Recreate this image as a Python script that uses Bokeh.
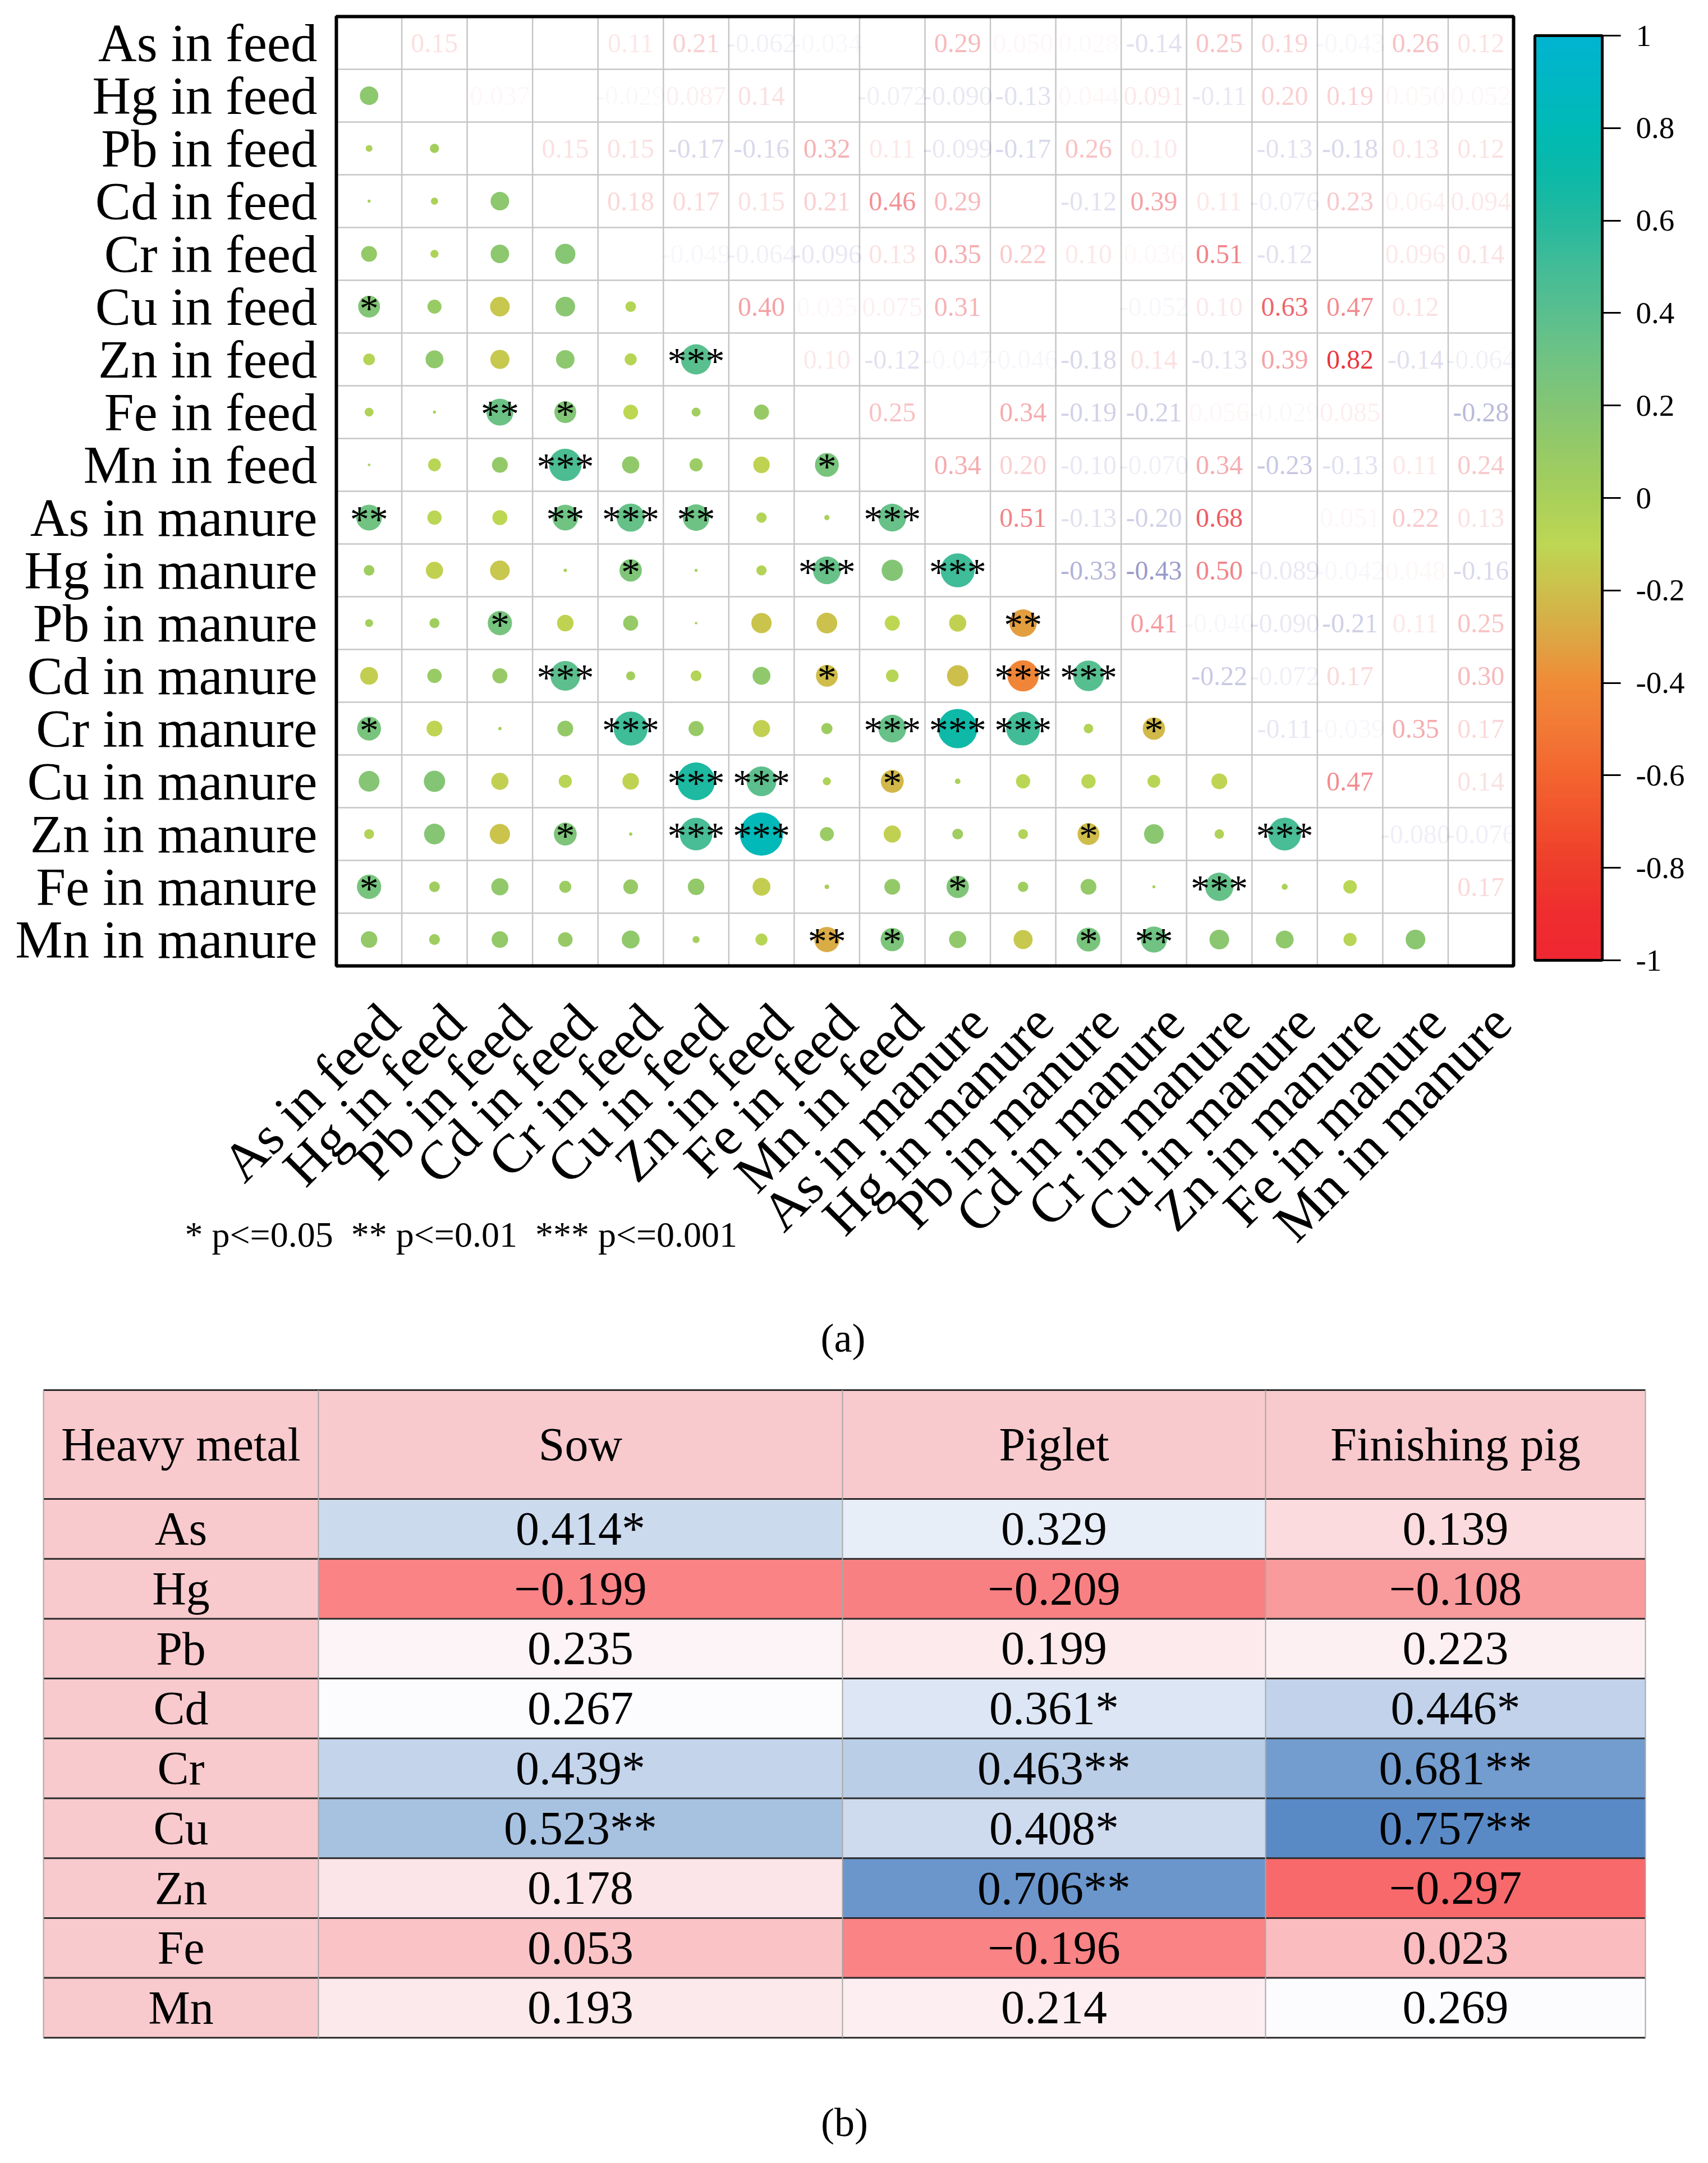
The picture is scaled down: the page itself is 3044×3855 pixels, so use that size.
import numpy as np
from bokeh.plotting import figure
from bokeh.models import (Range1d, FixedTicker, LinearColorMapper, ColorBar, Label,
                          ColumnDataSource, CustomJSTickFormatter, Grid)
from bokeh.layouts import column
from bokeh.embed import file_html
from bokeh.resources import INLINE
from bokeh.core.properties import value

# ---------------- data: panel (a) ----------------
variables = ["As in feed", "Hg in feed", "Pb in feed", "Cd in feed", "Cr in feed",
             "Cu in feed", "Zn in feed", "Fe in feed", "Mn in feed",
             "As in manure", "Hg in manure", "Pb in manure", "Cd in manure",
             "Cr in manure", "Cu in manure", "Zn in manure", "Fe in manure", "Mn in manure"]

# correlation coefficients, row i lists r(i, j) for j > i
upper_r = [
    [0.15, -0.020, 0.004, 0.11, 0.21, -0.062, -0.034, 0.003, 0.29, 0.050, 0.028, -0.14, 0.25, 0.19, -0.043, 0.26, 0.12],
    [0.037, -0.023, -0.029, 0.087, 0.14, 0.004, -0.072, -0.090, -0.13, 0.044, 0.091, -0.11, 0.20, 0.19, 0.050, 0.052],
    [0.15, 0.15, -0.17, -0.16, 0.32, 0.11, -0.099, -0.17, 0.26, 0.10, -0.005, -0.13, -0.18, 0.13, 0.12],
    [0.18, 0.17, 0.15, 0.21, 0.46, 0.29, 0.005, -0.12, 0.39, 0.11, -0.076, 0.23, 0.064, 0.094],
    [-0.049, -0.064, -0.096, 0.13, 0.35, 0.22, 0.10, 0.036, 0.51, -0.12, -0.005, 0.096, 0.14],
    [0.40, 0.035, 0.075, 0.31, 0.004, -0.003, -0.052, 0.10, 0.63, 0.47, 0.12, 0.022],
    [0.10, -0.12, -0.047, -0.046, -0.18, 0.14, -0.13, 0.39, 0.82, -0.14, -0.064],
    [0.25, -0.012, 0.34, -0.19, -0.21, 0.056, -0.029, 0.085, 0.0091, -0.28],
    [0.34, 0.20, -0.10, -0.070, 0.34, -0.23, -0.13, 0.11, 0.24],
    [0.51, -0.13, -0.20, 0.68, -0.014, 0.051, 0.22, 0.13],
    [-0.33, -0.43, 0.50, -0.089, -0.042, 0.048, -0.16],
    [0.41, -0.040, -0.090, -0.21, 0.11, 0.25],
    [-0.22, -0.072, 0.17, 0.004, 0.30],
    [-0.11, -0.039, 0.35, 0.17],
    [0.47, -0.016, 0.14],
    [-0.080, -0.076],
    [0.17],
]

# significance level in the lower triangle (0: none, 1: *, 2: **, 3: ***), row i, cols 0..i-1
lower_sig = [
    "", "0", "00", "000", "0000", "10000", "000003", "0021000", "00030001",
    "200232003", "0000100303", "00100000002", "000300010033", "1000300033301",
    "00000330100000", "000103300001003", "1000000001000300", "00000002100120000",
]
sig_marks = ["", "*", "**", "***"]
cbar_ticks = [-1.0, -0.8, -0.6, -0.4, -0.2, 0.0, 0.2, 0.4, 0.6, 0.8, 1.0]
legend_text = "* p<=0.05\u00a0 ** p<=0.01\u00a0 *** p<=0.001"

# ---------------- data: panel (b) ----------------
table_header = ["Heavy metal", "Sow", "Piglet", "Finishing pig"]
metals = ["As", "Hg", "Pb", "Cd", "Cr", "Cu", "Zn", "Fe", "Mn"]
sow = [0.414, -0.199, 0.235, 0.267, 0.439, 0.523, 0.178, 0.053, 0.193]
sow_sig = ["*", "", "", "", "*", "**", "", "", ""]
piglet = [0.329, -0.209, 0.199, 0.361, 0.463, 0.408, 0.706, -0.196, 0.214]
piglet_sig = ["", "", "", "*", "**", "*", "**", "", ""]
finishing = [0.139, -0.108, 0.223, 0.446, 0.681, 0.757, -0.297, 0.023, 0.269]
finishing_sig = ["", "", "", "*", "**", "**", "", "", ""]

# ---------------- styles / layout ----------------
SERIF = "Liberation Serif"
W = 3028
HA = 2432
HC = 3839 - HA
GX, GY, GW, GH = 599, 29, 2098, 1692     # heat-map grid box inside canvas (a)
XOFF = 0.317          # shift of rotated column labels, in cells
XLAB_DY = 85          # px below grid for rotated labels
CIRCLE_PX = 85        # circle diameter for |r| = 1 (area proportional to |r|)
cmap_stops = [(-1.0, "#EF2731"), (-0.9, "#EF2D2F"), (-0.8, "#EE3D2B"), (-0.7, "#F1512C"),
              (-0.6, "#F3652F"), (-0.5, "#F27935"), (-0.4, "#F08B38"), (-0.3, "#DCA744"),
              (-0.2, "#CDBF4B"), (-0.1, "#BDD753"), (0.0, "#A9D05A"), (0.1, "#97CA66"),
              (0.2, "#84C575"), (0.3, "#70C383"), (0.4, "#5ABF8E"), (0.5, "#43BC97"),
              (0.6, "#25B99E"), (0.7, "#0CB9A8"), (0.8, "#00BAB5"), (0.9, "#00B7C3"),
              (1.0, "#00B4D0")]
POS_TXT = (228, 8, 18)
NEG_TXT = (8, 8, 128)


def hex2rgb(h):
    return [int(h[k:k + 2], 16) for k in (1, 3, 5)]


sv = [s[0] for s in cmap_stops]
sc = np.array([hex2rgb(s[1]) for s in cmap_stops])
grid_v = np.linspace(-1, 1, 256)
palette = ["#%02x%02x%02x" % tuple(int(round(np.interp(g, sv, sc[:, c]))) for c in range(3))
           for g in grid_v]
mapper = LinearColorMapper(palette=palette, low=-1, high=1)

N = len(variables)
R = np.eye(N)
for i, row in enumerate(upper_r):
    for k, v in enumerate(row):
        j = i + 1 + k
        R[i, j] = v
        R[j, i] = v


def fmt2(v):
    a = abs(v)
    e = int(np.floor(np.log10(a)))
    dec = max(0, 1 - e)
    return ("-" if v < 0 else "") + f"{a:.{dec}f}"


def drop_grids(fig):
    fig.center = [r for r in fig.center if not isinstance(r, Grid)]


# lower triangle: circles + stars
lx, ly, lr, lsize, lstar = [], [], [], [], []
for i in range(N):
    for j in range(i):
        lx.append(j + 0.5)
        ly.append(i + 0.5)
        lr.append(R[i, j])
        lsize.append(np.sqrt(abs(R[i, j])) * CIRCLE_PX)
        lstar.append(sig_marks[int(lower_sig[i][j])])
low_src = ColumnDataSource(dict(x=lx, y=ly, r=lr, size=lsize, star=lstar))

# upper triangle: coloured numbers
ux, uy, ut, ucol, ualpha = [], [], [], [], []
for i in range(N):
    for j in range(i + 1, N):
        v = R[i, j]
        ux.append(j + 0.5)
        uy.append(i + 0.5)
        ut.append(fmt2(v))
        ucol.append("#%02x%02x%02x" % (POS_TXT if v >= 0 else NEG_TXT))
        ualpha.append(min(1.0, abs(v)))
up_src = ColumnDataSource(dict(x=ux, y=uy, t=ut, c=ucol, a=ualpha))

CW = GW / N
CH = GH / N
p = figure(width=W, height=HA,
           x_range=Range1d(-GX / CW, N + (W - GX - GW) / CW),
           y_range=Range1d(N + (HA - GY - GH) / CH, -GY / CH),
           x_axis_location=None, y_axis_location=None,
           output_backend="svg", toolbar_location=None, min_border=0)
drop_grids(p)
p.outline_line_color = None
p.background_fill_color = "white"
p.border_fill_color = "white"

bounds = list(range(N + 1))
p.segment(x0=bounds, x1=bounds, y0=[0] * len(bounds), y1=[N] * len(bounds),
          line_color="#C6C6C6", line_width=2.5)
p.segment(x0=[0] * len(bounds), x1=[N] * len(bounds), y0=bounds, y1=bounds,
          line_color="#C6C6C6", line_width=2.5)

centers = [k + 0.5 for k in range(N)]
# row labels (left) and rotated column labels (below)
p.text(x=[0] * N, y=centers, text=variables, x_offset=-34, text_font=value(SERIF),
       text_font_size="95px", text_align="right", text_baseline="middle", text_color="black")
p.text(x=[c + XOFF for c in centers], y=[N] * N, text=variables, y_offset=XLAB_DY,
       angle=np.pi / 4, text_font=value(SERIF), text_font_size="97px",
       text_align="right", text_baseline="middle", text_color="black")

p.scatter(x="x", y="y", size="size", source=low_src, marker="circle",
          fill_color={"field": "r", "transform": mapper}, line_color=None)
p.text(x="x", y="y", text="star", source=low_src, text_font=value(SERIF),
       text_font_size="68px", text_align="center", text_baseline="middle",
       y_offset=2, text_color="black")
p.text(x="x", y="y", text="t", source=up_src, text_font=value(SERIF),
       text_font_size="48px", text_align="center", text_baseline="middle",
       text_color="c", text_alpha="a")
p.quad(left=[0], right=[N], top=[0], bottom=[N], fill_color=None,
       line_color="black", line_width=6)

cb = ColorBar(color_mapper=mapper, ticker=FixedTicker(ticks=cbar_ticks, minor_ticks=[]),
              formatter=CustomJSTickFormatter(code="return (Math.round(tick*10)/10).toString();"),
              width=120, height=1648, padding=0, margin=0,
              location=(GX + GW + 38, HA - (GY + GH - 10)),
              major_label_text_font=SERIF, major_label_text_font_size="55px",
              major_label_text_color="black",
              major_tick_out=33, major_tick_in=0, major_tick_line_color="black",
              major_tick_line_width=3, minor_tick_line_color=None,
              bar_line_color="black", bar_line_width=5, label_standoff=27,
              background_fill_color=None, border_line_color=None)
p.add_layout(cb, "center")

p.add_layout(Label(x=(337 - 607) / CW, y=N + (2208 - 1729) / CH, text=legend_text,
                   text_font=SERIF, text_font_size="64px", text_align="left",
                   text_baseline="middle", text_color="black"))
p.add_layout(Label(x=(1510 - 607) / CW, y=N + (2392 - 1729) / CH, text="(a)",
                   text_font=SERIF, text_font_size="72px", text_align="center",
                   text_baseline="middle", text_color="black"))

# ---------------- panel (b): table ----------------
TX0 = 77
COLW = [490, 934, 754, 677]
TY0 = 45
HEAD_H = 194
ROW_H = 106.7
HEAD_FILL = "#F8CACD"
LO_C, MID_C, HI_C = hex2rgb("#F8696B"), hex2rgb("#FCFCFF"), hex2rgb("#5A8AC6")

col_vals = [sow, piglet, finishing]
col_sigs = [sow_sig, piglet_sig, finishing_sig]
all_vals = np.array(sow + piglet + finishing)
vmin, vmid, vmax = all_vals.min(), np.percentile(all_vals, 55), all_vals.max()


def scale_color(v):
    if v <= vmid:
        t = (v - vmin) / (vmid - vmin)
        a, b = LO_C, MID_C
    else:
        t = (v - vmid) / (vmax - vmid)
        a, b = MID_C, HI_C
    return "#%02x%02x%02x" % tuple(int(round(a[k] + t * (b[k] - a[k]))) for k in range(3))


edges = [TX0]
for w_ in COLW:
    edges.append(edges[-1] + w_)
nrows = len(metals)
tbl_bottom = TY0 + HEAD_H + nrows * ROW_H

ql, qr, qt, qb, qc = [], [], [], [], []
tx, ty, tt = [], [], []
for c, h in enumerate(table_header):
    ql.append(edges[c]); qr.append(edges[c + 1]); qt.append(TY0); qb.append(TY0 + HEAD_H)
    qc.append(HEAD_FILL)
    tx.append((edges[c] + edges[c + 1]) / 2); ty.append(TY0 + HEAD_H / 2); tt.append(h)
for r_, m in enumerate(metals):
    top = TY0 + HEAD_H + r_ * ROW_H
    ql.append(edges[0]); qr.append(edges[1]); qt.append(top); qb.append(top + ROW_H)
    qc.append(HEAD_FILL)
    tx.append((edges[0] + edges[1]) / 2); ty.append(top + ROW_H / 2); tt.append(m)
    for c in range(3):
        v = col_vals[c][r_]
        ql.append(edges[c + 1]); qr.append(edges[c + 2]); qt.append(top); qb.append(top + ROW_H)
        qc.append(scale_color(v))
        tx.append((edges[c + 1] + edges[c + 2]) / 2); ty.append(top + ROW_H / 2)
        tt.append(("%.3f" % v).replace("-", "\u2212") + col_sigs[c][r_])

q = figure(width=W, height=HC, x_range=Range1d(0, W), y_range=Range1d(HC, 0),
           x_axis_location=None, y_axis_location=None,
           output_backend="svg", toolbar_location=None, min_border=0)
drop_grids(q)
q.outline_line_color = None
q.background_fill_color = "white"
q.border_fill_color = "white"
q.quad(left=ql, right=qr, top=qt, bottom=qb, fill_color=qc, line_color=None)

hy = [TY0] + [TY0 + HEAD_H + k * ROW_H for k in range(nrows + 1)]
q.segment(x0=[edges[0]] * len(hy), x1=[edges[-1]] * len(hy), y0=hy, y1=hy,
          line_color="#2A2A2A", line_width=3)
q.segment(x0=edges, x1=edges, y0=[TY0] * len(edges), y1=[tbl_bottom] * len(edges),
          line_color="#A8A8A8", line_width=2)
q.text(x=tx, y=ty, text=tt, text_font=value(SERIF), text_font_size="84px",
       text_align="center", text_baseline="middle", text_color="black")
q.text(x=[(edges[0] + edges[-1]) / 2], y=[1350], text=["(b)"], text_font=value(SERIF),
       text_font_size="72px", text_align="center", text_baseline="middle", text_color="black")

layout = column(p, q, spacing=0)
open("out.html", "w").write(file_html(layout, INLINE))
